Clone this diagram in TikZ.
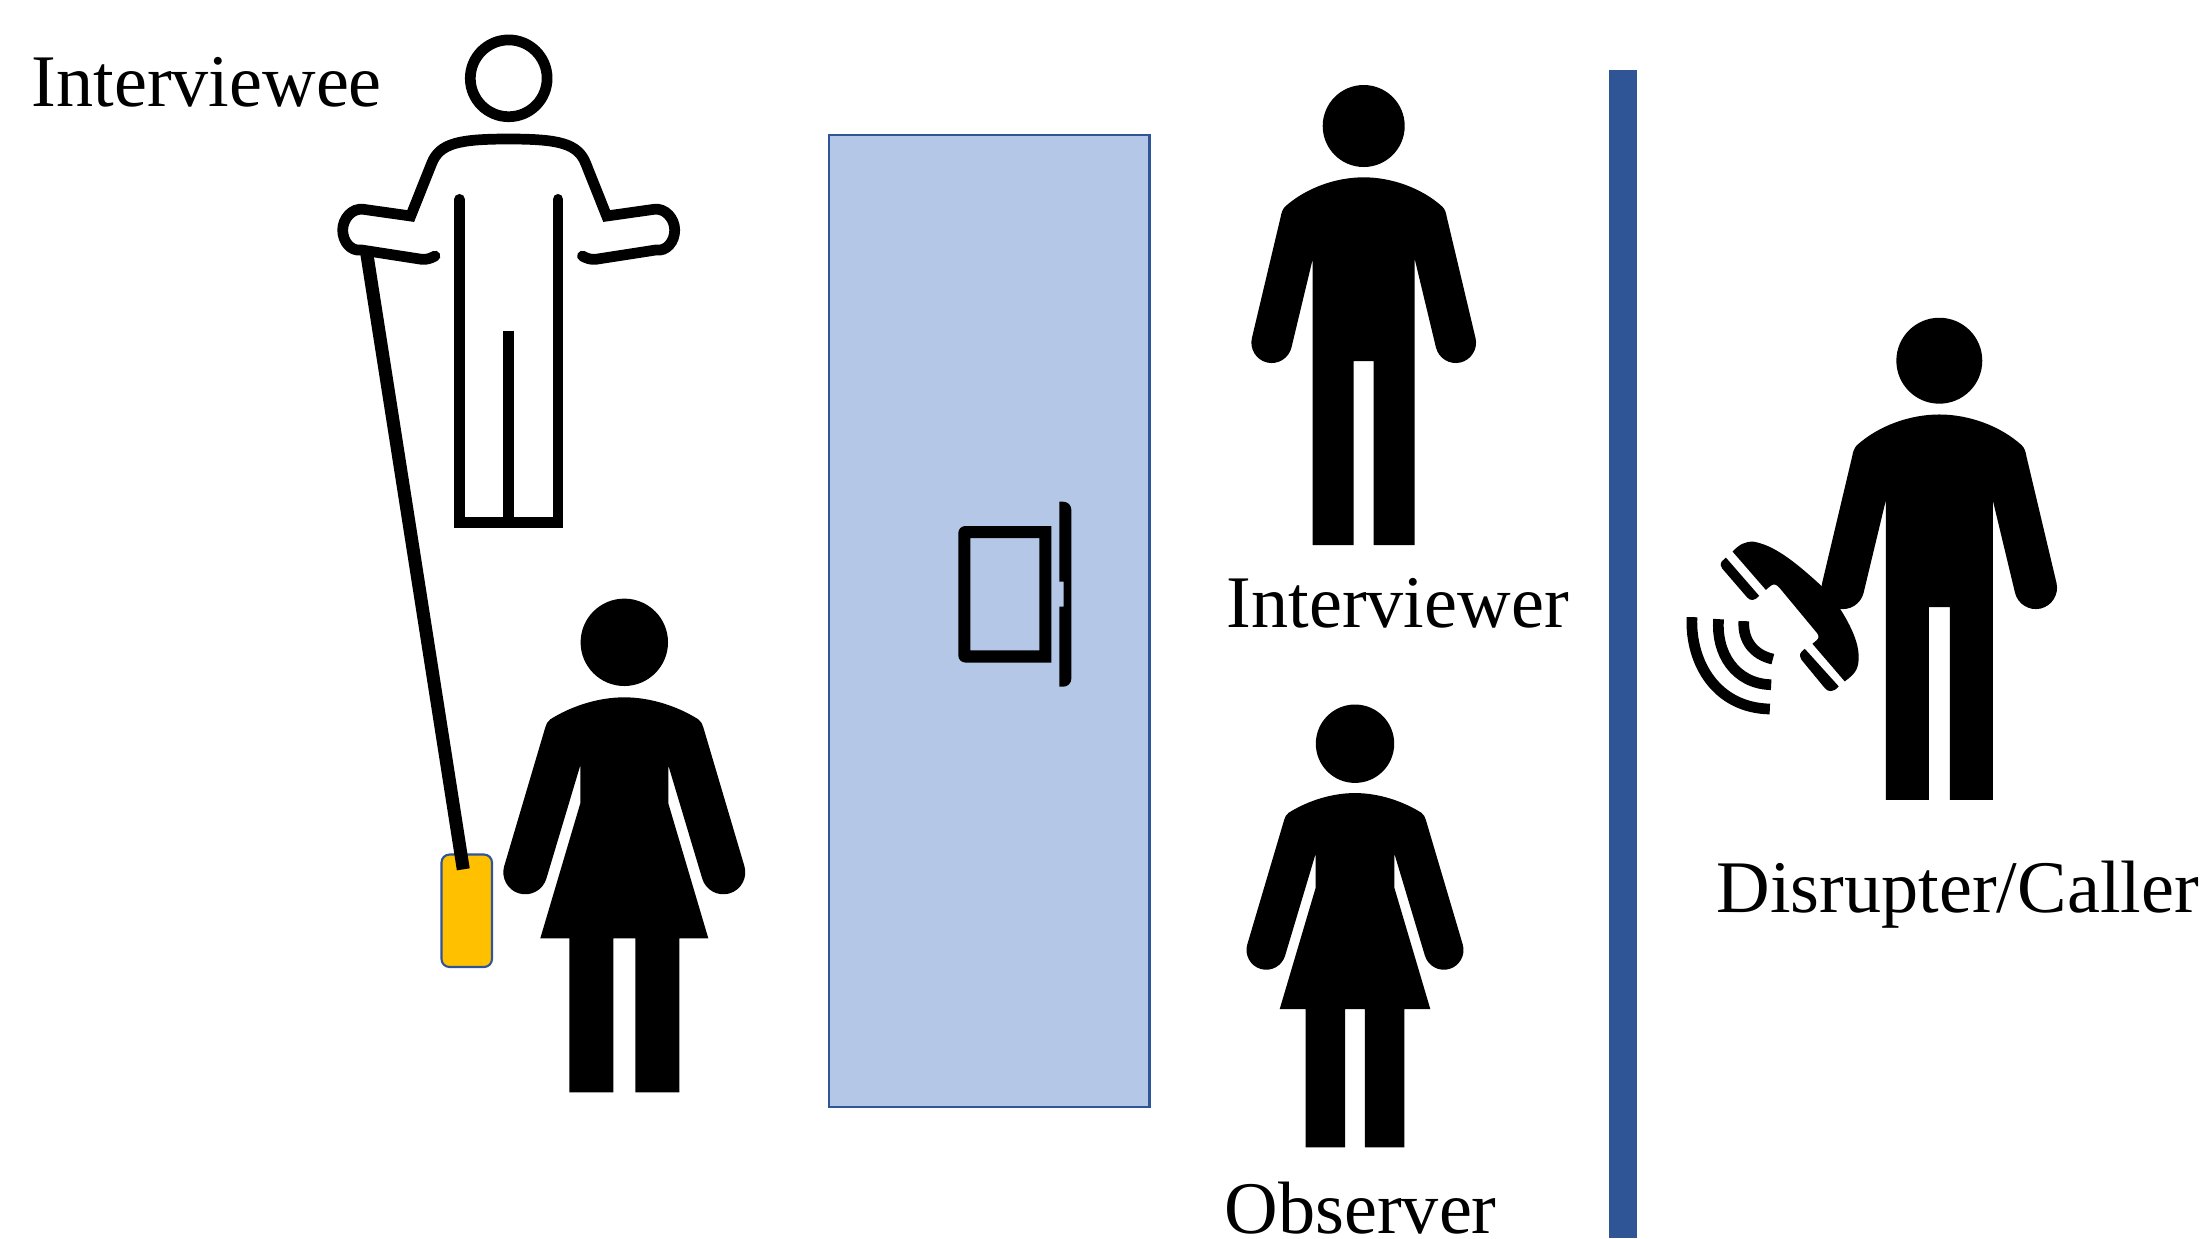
\documentclass[tikz,border=0pt]{standalone}
\usepackage{fontspec}
\setmainfont{Liberation Serif}
\usetikzlibrary{calc}
\definecolor{WallBlue}{HTML}{B4C7E7}
\definecolor{EdgeBlue}{HTML}{2F5597}
\definecolor{PhoneYellow}{HTML}{FFC000}
\tikzset{
  caption/.style={anchor=base west,inner sep=0pt,font=\fontsize{21.1}{26}\selectfont},
  outline/.style={line width=3.05pt,line cap=round,line join=miter},
  man/.pic={
    \fill (0,0) circle (41);
    \fill (0,51.3) .. controls (-28,51.3) and (-58,62) .. (-78.7,80.7) .. controls (-81,83) and (-82.5,87) .. (-83,90.7)
      -- (-111.8,212) .. controls (-114.4,222.9) and (-107.5,234) .. (-96.6,236.5) .. controls (-85.7,239) and (-74.8,232.2) .. (-72.2,221.3)
      -- (-51,133) -- (-51,419) -- (-10,419) -- (-10,235) -- (10,235) -- (10,419) -- (51,419) -- (51,133)
      -- (72.2,221.3) .. controls (74.8,232.2) and (85.7,239) .. (96.6,236.5) .. controls (107.5,234) and (114.4,222.9) .. (111.8,212)
      -- (83,90.7) .. controls (82.5,87) and (81,83) .. (78.7,80.7) .. controls (58,62) and (28,51.3) .. (0,51.3) -- cycle;
  },
  woman/.pic={
    \fill (0,0) circle (43.7);
    \fill (0,55) .. controls (-28,55) and (-55,65) .. (-74,77) .. controls (-77,79) and (-78,82) .. (-79,85)
      -- (-120.1,223.8) .. controls (-123.5,235.4) and (-116.8,247.7) .. (-105.2,251.1) .. controls (-93.6,254.5) and (-81.3,247.8) .. (-77.9,236.2)
      -- (-44,123) -- (-44,161) -- (-84,296) -- (-55,296) -- (-55,450) -- (-11,450) -- (-11,296)
      -- (11,296) -- (11,450) -- (55,450) -- (55,296) -- (84,296) -- (44,161) -- (44,123)
      -- (77.9,236.2) .. controls (81.3,247.8) and (93.6,254.5) .. (105.2,251.1) .. controls (116.8,247.7) and (123.5,235.4) .. (120.1,223.8)
      -- (79,85) .. controls (78,82) and (77,79) .. (74,77) .. controls (55,65) and (28,55) .. (0,55) -- cycle;
  }
}

\begin{document}
\begin{tikzpicture}[x=.01cm,y=-.01cm,line cap=butt]
  \useasboundingbox (0,0) rectangle (2203,1238);
  % wall and separator
  \filldraw[fill=WallBlue,draw=EdgeBlue,line width=.8pt] (829,135) rectangle (1149.5,1107);
  \fill[EdgeBlue] (1609,70) rectangle (1637,1238);
  % tablet on the wall
  \fill[even odd rule] (1051.3,526) -- (964,526) [rounded corners=.7mm] -- (958.3,526) -- (958.3,662.5) [sharp corners] -- (1051.3,662.5) -- cycle
    (970.3,538) rectangle (1039.3,650.3);
  \fill (1059.3,501.7) [rounded corners=.8mm] -- (1071.3,501.7) -- (1071.3,686.7) [sharp corners] -- (1059.3,686.7)
    -- (1059.3,606.7) -- (1063.7,606.7) -- (1063.7,581.7) -- (1059.3,581.7) -- cycle;
  % interviewee, outlined
  \begin{scope}[shift={(508.7,78.3)}]
    \draw[line width=3.05pt] (0,0) circle (38.4);
    \draw[outline] (-73.7,177.7) .. controls (-78,180) and (-82,181.5) .. (-87,181) -- (-147,171.7)
      .. controls (-158.2,173.4) and (-166,163) .. (-166,151.7) .. controls (-166,140.4) and (-156.6,129.4) .. (-145.3,131)
      -- (-98,137.7) -- (-77,85) .. controls (-69,65) and (-50,60.7) .. (0,60.7)
      .. controls (50,60.7) and (69,65) .. (77,85) -- (98,137.7) -- (145.3,131)
      .. controls (156.6,129.4) and (166,140.4) .. (166,151.7) .. controls (166,163) and (158.2,173.4) .. (147,171.7)
      -- (87,181) .. controls (82,181.5) and (78,180) .. (73.7,177.7);
    \draw[outline] (-49.3,121) -- (-49.3,444.3) -- (49.3,444.3) -- (49.3,121);
    \draw[line width=3.05pt] (0,252.3) -- (0,444.3);
  \end{scope}
  % phone on its lanyard
  \draw[fill=PhoneYellow,draw=EdgeBlue,line width=.6pt,rounded corners=.8mm] (441.5,854.5) rectangle (492,967);
  \coordinate (strapTop) at (366.7,253);\coordinate (strapEnd) at (463.3,869.3);
  \draw[line width=3.7pt] (strapTop) -- (strapEnd);
  % people
  \pic at (624.3,642.3) {woman};
  \pic at (1363.7,126) {man};
  \pic[scale=.897] at (1355,743.7) {woman};
  \pic[scale=1.048] at (1939.3,360.7) {man};
  % handset, in the zoomed grid
  \begin{scope}[shift={(1660,500)},x=.00333cm,y=-.00333cm]
    \fill (218,155) .. controls (240,132) and (255,125) .. (280,125) .. controls (340,135) and (400,180) .. (485,258)
      -- (540,325) .. controls (575,380) and (597,430) .. (597,470) .. controls (597,505) and (590,520) .. (555,545)
      -- (458,432) -- (470,422) .. controls (478,415) and (478,408) .. (472,400) -- (360,265) .. controls (350,252) and (340,250) .. (330,260) -- (318,270) -- cycle;
    \fill (198,173) -- (186,184) .. controls (180,192) and (182,200) .. (187,206) -- (262,293) .. controls (272,304) and (285,303) .. (298,288) -- cycle;
    \fill (435,447) -- (425,456) .. controls (418,464) and (420,474) .. (425,480) -- (495,565) .. controls (505,578) and (522,578) .. (537,560) -- cycle;
    \draw[line width=3.05pt] (252,364) .. controls (248,420) and (280,465) .. (339,478);
    \draw[line width=3.05pt] (176,358) .. controls (168,460) and (225,552) .. (334,555);
    \draw[line width=3.05pt] (96,352) .. controls (90,490) and (170,625) .. (330,628);
  \end{scope}
  % captions
  \node[caption] (intervieweeLabel) at (31,106) {Interviewee};
  \node[caption] (interviewerLabel) at (1226,627.5) {Interviewer};
  \node[caption] (observerLabel) at (1224,1233) {Observer};
  \node[caption] (callerLabel) at (1716,912) {Disrupter/Caller};
\end{tikzpicture}
\end{document}
